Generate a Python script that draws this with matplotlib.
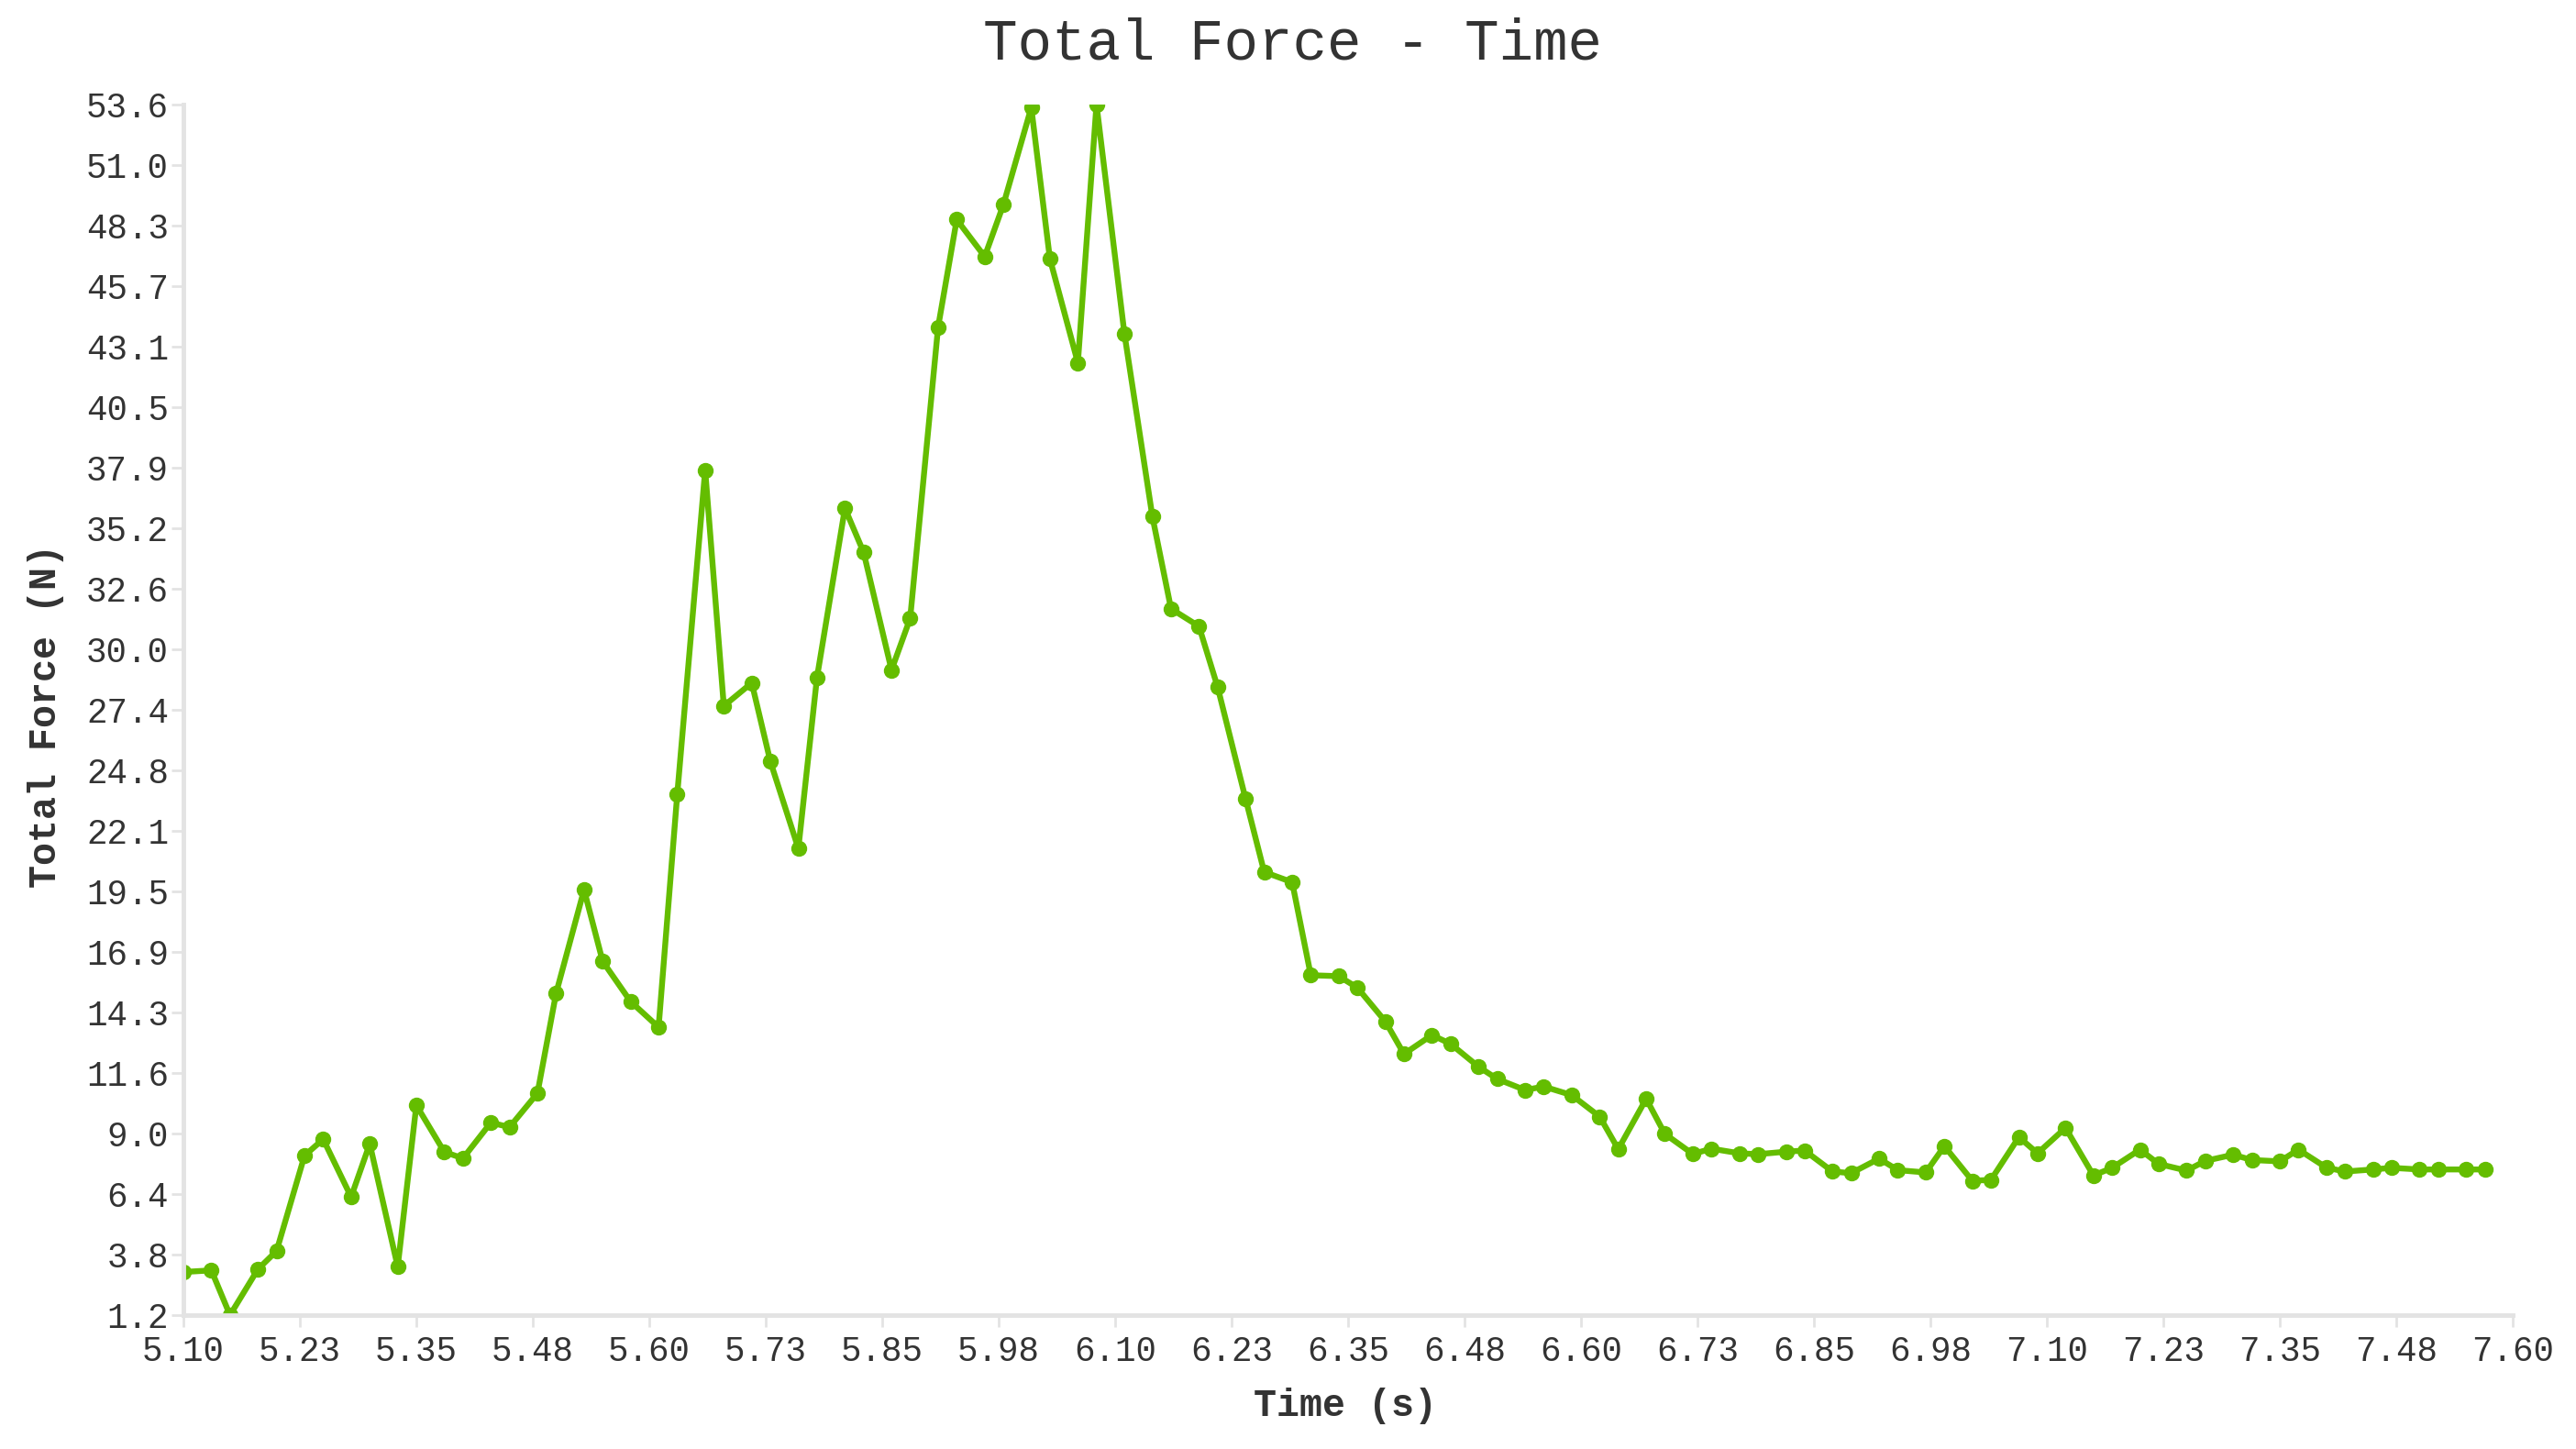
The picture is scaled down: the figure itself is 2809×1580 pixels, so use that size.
"""
plot.py - Total Force vs Time line chart
"""
import numpy as np
import matplotlib
matplotlib.use("Agg")
import matplotlib.pyplot as plt

# --- Data ---
time_s = [
    5.10, 5.13, 5.15, 5.18, 5.20, 5.23, 5.25, 5.28, 5.30, 5.33,
    5.35, 5.38, 5.40, 5.43, 5.45, 5.48, 5.50, 5.53, 5.55, 5.58,
    5.61, 5.63, 5.66, 5.68, 5.71, 5.73, 5.76, 5.78, 5.81, 5.83,
    5.86, 5.88, 5.91, 5.93, 5.96, 5.98, 6.01, 6.03, 6.06, 6.08,
    6.11, 6.14, 6.16, 6.19, 6.21, 6.24, 6.26, 6.29, 6.31, 6.34,
    6.36, 6.39, 6.41, 6.44, 6.46, 6.49, 6.51, 6.54, 6.56, 6.59,
    6.62, 6.64, 6.67, 6.69, 6.72, 6.74, 6.77, 6.79, 6.82, 6.84,
    6.87, 6.89, 6.92, 6.94, 6.97, 6.99, 7.02, 7.04, 7.07, 7.09,
    7.12, 7.15, 7.17, 7.20, 7.22, 7.25, 7.27, 7.30, 7.32, 7.35,
    7.37, 7.40, 7.42, 7.45, 7.47, 7.50, 7.52, 7.55, 7.57,
]
total_force = [
    3.03, 3.10, 1.163, 3.15, 3.94, 8.07, 8.78, 6.28, 8.58, 3.26,
    10.25, 8.23, 7.95, 9.50, 9.30, 10.77, 15.10, 19.58, 16.48, 14.74,
    13.63, 23.70, 37.75, 27.54, 28.54, 25.13, 21.37, 28.77, 36.10, 34.20,
    29.10, 31.33, 43.95, 48.60, 47.00, 49.24, 53.45, 46.90, 42.40, 53.583,
    43.65, 35.74, 31.75, 30.99, 28.36, 23.52, 20.35, 19.91, 15.88, 15.84,
    15.34, 13.88, 12.47, 13.29, 12.91, 11.92, 11.39, 10.91, 11.06, 10.69,
    9.76, 8.35, 10.53, 9.01, 8.14, 8.37, 8.17, 8.13, 8.24, 8.29,
    7.38, 7.31, 7.94, 7.44, 7.34, 8.48, 6.98, 7.02, 8.87, 8.17,
    9.27, 7.21, 7.54, 8.33, 7.71, 7.42, 7.84, 8.11, 7.88, 7.82,
    8.33, 7.55, 7.38, 7.47, 7.54, 7.47, 7.47, 7.47, 7.47,
]
x_tick_labels = [
    "5.10", "5.23", "5.35", "5.48", "5.60", "5.73", "5.85", "5.98",
    "6.10", "6.23", "6.35", "6.48", "6.60", "6.73", "6.85", "6.98",
    "7.10", "7.23", "7.35", "7.48", "7.60",
]

GREEN = "#64BD00"
AXIS_GREY = "#E3E3E3"
TEXT = "#333333"

plt.rcParams["font.family"] = ["Liberation Mono", "DejaVu Sans Mono"]

W, H = 2809, 1580
fig = plt.figure(figsize=(W / 100, H / 100), dpi=100)
# plot area: x 200..2740 px, y 114..1434 px
ax = fig.add_axes([200 / W, 1 - 1434 / H, 2540 / W, 1320 / H])

ax.plot(time_s, total_force, color=GREEN, lw=4.6, marker="o", ms=11.5,
        mfc=GREEN, mec=GREEN, solid_joinstyle="round")

# --- Axes: value range taken from data (min/max) ---
ax.set_xlim(5.10, 7.60)
ymin, ymax = min(total_force), max(total_force)
ax.set_ylim(ymin, ymax)
yticks = np.linspace(ymin, ymax, 21)
ax.set_yticks(yticks)
ax.set_yticklabels([f"{v:.1f}" for v in yticks])
ax.set_xticks(np.linspace(5.10, 7.60, len(x_tick_labels)))
ax.set_xticklabels(x_tick_labels)

for side in ("top", "right"):
    ax.spines[side].set_visible(False)
for side in ("left", "bottom"):
    ax.spines[side].set_color(AXIS_GREY)
    ax.spines[side].set_linewidth(3.5)

ax.tick_params(axis="both", length=9.5, width=2, color=AXIS_GREY,
               labelsize=27, labelcolor=TEXT)
ax.tick_params(axis="y", pad=2)
ax.tick_params(axis="x", pad=6)

# --- Titles ---
fig.text(1409 / W, 1 - 48 / H, "Total Force - Time", ha="center", va="center",
         fontsize=45, color=TEXT)
fig.text(1467 / W, 1 - 1533 / H, "Time (s)", ha="center", va="center",
         fontsize=30, fontweight="bold", color=TEXT)
fig.text(50 / W, 1 - 781 / H, "Total Force (N)", ha="center", va="center",
         rotation=90, fontsize=30, fontweight="bold", color=TEXT)

fig.savefig("out.png", dpi=100)
plt.close(fig)
